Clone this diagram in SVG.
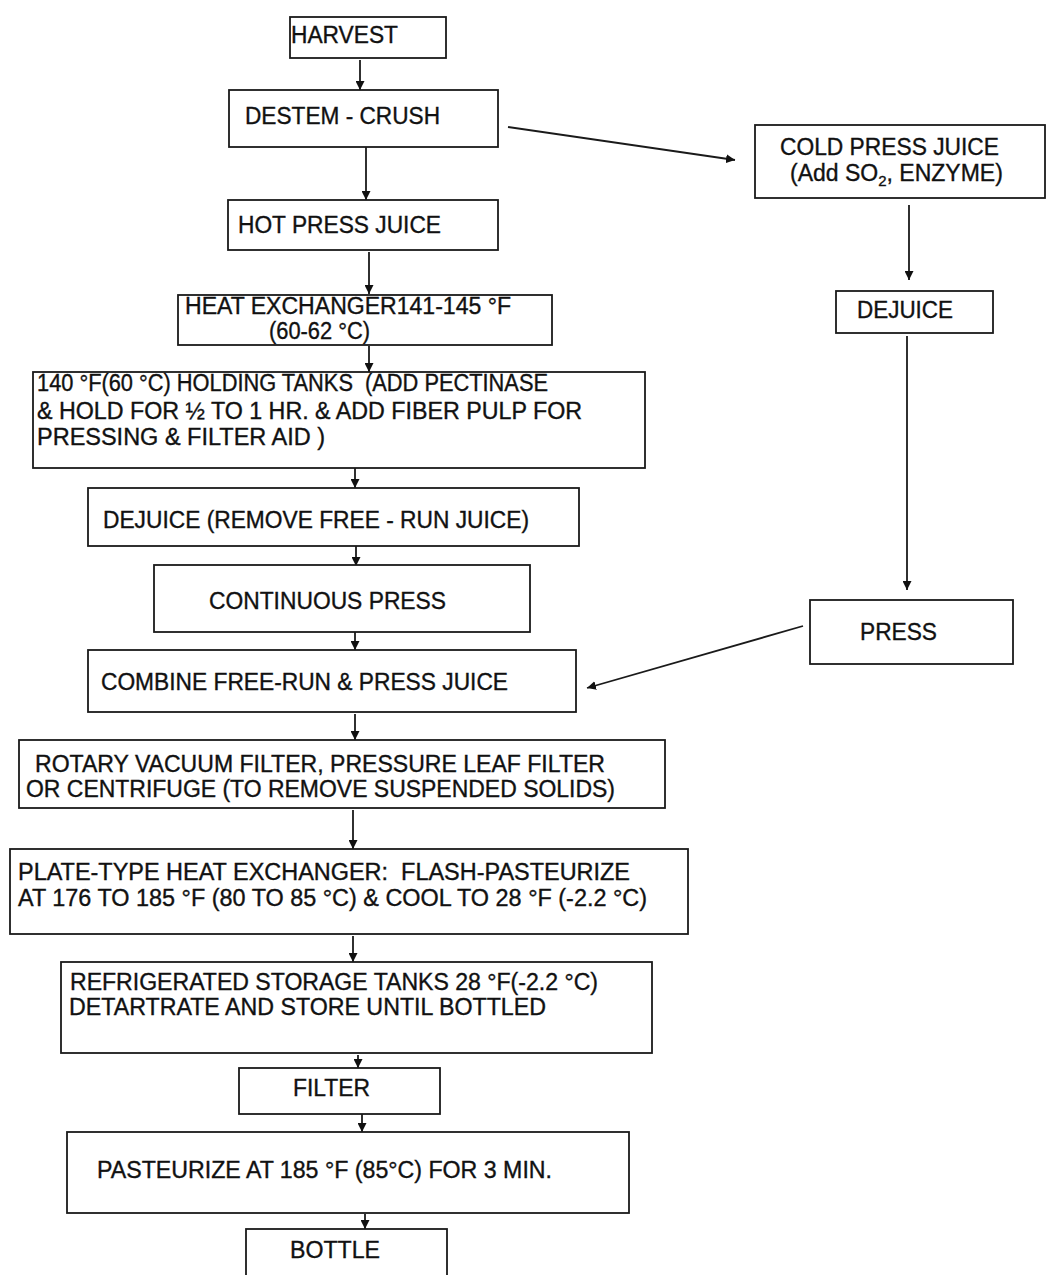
<svg xmlns="http://www.w3.org/2000/svg" width="1047" height="1275" viewBox="0 0 1047 1275">
<defs>
<marker id="ah" viewBox="0 0 10 10" refX="10" refY="5" markerWidth="9" markerHeight="9" markerUnits="userSpaceOnUse" orient="auto">
<path d="M0,0 L10,5 L0,10 z" fill="#111"/>
</marker>
<style>
rect{fill:#fff;stroke:#1a1a1a;stroke-width:1.8}
text{font-family:"Liberation Sans",Arial,sans-serif;font-size:23px;fill:#111;stroke:#111;stroke-width:0.35;white-space:pre}
.c line{stroke:#1a1a1a;stroke-width:1.8;marker-end:url(#ah)}
</style>
</defs>
<rect x="0" y="0" width="1047" height="1275" style="fill:#fff;stroke:none"/>
<g class="c" id="connectors">
<line x1="360" y1="60" x2="360" y2="90"/>
<line x1="366" y1="140" x2="366" y2="200"/>
<line x1="508" y1="127" x2="735" y2="160"/>
<line x1="909" y1="205" x2="909" y2="280"/>
<line x1="907" y1="336" x2="907" y2="590"/>
<line x1="803" y1="626" x2="587" y2="688"/>
<line x1="369" y1="252" x2="369" y2="294"/>
<line x1="369" y1="346" x2="369" y2="372"/>
<line x1="355" y1="462" x2="355" y2="488"/>
<line x1="356" y1="546" x2="356" y2="566"/>
<line x1="355" y1="632" x2="355" y2="650"/>
<line x1="355" y1="714" x2="355" y2="740"/>
<line x1="353" y1="810" x2="353" y2="849"/>
<line x1="353" y1="936" x2="353" y2="962"/>
<line x1="358" y1="1055" x2="358" y2="1068"/>
<line x1="362" y1="1114" x2="362" y2="1132"/>
<line x1="365" y1="1214" x2="365" y2="1229"/>
</g>
<g id="harvest"><rect x="290" y="17" width="156" height="41"/><text x="291" y="43" textLength="107" lengthAdjust="spacingAndGlyphs">HARVEST</text></g>
<g id="destem"><rect x="229" y="90" width="269" height="57"/><text x="245" y="124" textLength="195" lengthAdjust="spacingAndGlyphs">DESTEM - CRUSH</text></g>
<g id="coldpress"><rect x="755" y="125" width="290" height="73"/><text x="780" y="155" textLength="219" lengthAdjust="spacingAndGlyphs">COLD PRESS JUICE</text><text x="790" y="181">(Add SO<tspan font-size="15" dy="5">2</tspan><tspan dy="-5">, ENZYME)</tspan></text></g>
<g id="dejuice-right"><rect x="836" y="291" width="157" height="42"/><text x="857" y="318" textLength="96" lengthAdjust="spacingAndGlyphs">DEJUICE</text></g>
<g id="press"><rect x="810" y="600" width="203" height="64"/><text x="860" y="640" textLength="77" lengthAdjust="spacingAndGlyphs">PRESS</text></g>
<g id="hotpress"><rect x="228" y="200" width="270" height="50"/><text x="238" y="233" textLength="203" lengthAdjust="spacingAndGlyphs">HOT PRESS JUICE</text></g>
<g id="heatex"><rect x="178" y="295" width="374" height="50"/><text x="185" y="314" textLength="326" lengthAdjust="spacingAndGlyphs">HEAT EXCHANGER141-145 °F</text><text x="269" y="339" textLength="101" lengthAdjust="spacingAndGlyphs">(60-62 °C)</text></g>
<g id="holding"><rect x="33" y="372" width="612" height="96"/><text x="37" y="391" textLength="511" lengthAdjust="spacingAndGlyphs">140 °F(60 °C) HOLDING TANKS  (ADD PECTINASE</text><text x="37" y="419" textLength="545" lengthAdjust="spacingAndGlyphs">&amp; HOLD FOR ½ TO 1 HR. &amp; ADD FIBER PULP FOR</text><text x="37" y="445" textLength="288" lengthAdjust="spacingAndGlyphs">PRESSING &amp; FILTER AID )</text></g>
<g id="dejuice-left"><rect x="88" y="488" width="491" height="58"/><text x="103" y="528" textLength="426" lengthAdjust="spacingAndGlyphs">DEJUICE (REMOVE FREE - RUN JUICE)</text></g>
<g id="continuous"><rect x="154" y="565" width="376" height="67"/><text x="209" y="609" textLength="237" lengthAdjust="spacingAndGlyphs">CONTINUOUS PRESS</text></g>
<g id="combine"><rect x="88" y="650" width="488" height="62"/><text x="101" y="690" textLength="407" lengthAdjust="spacingAndGlyphs">COMBINE FREE-RUN &amp; PRESS JUICE</text></g>
<g id="rotary"><rect x="19" y="740" width="646" height="68"/><text x="35" y="772" textLength="570" lengthAdjust="spacingAndGlyphs">ROTARY VACUUM FILTER, PRESSURE LEAF FILTER</text><text x="26" y="797" textLength="589" lengthAdjust="spacingAndGlyphs">OR CENTRIFUGE (TO REMOVE SUSPENDED SOLIDS)</text></g>
<g id="plate"><rect x="10" y="849" width="678" height="85"/><text x="18" y="880" textLength="612" lengthAdjust="spacingAndGlyphs">PLATE-TYPE HEAT EXCHANGER:  FLASH-PASTEURIZE</text><text x="18" y="906" textLength="629" lengthAdjust="spacingAndGlyphs">AT 176 TO 185 °F (80 TO 85 °C) &amp; COOL TO 28 °F (-2.2 °C)</text></g>
<g id="refrigerated"><rect x="61" y="962" width="591" height="91"/><text x="70" y="990" textLength="528" lengthAdjust="spacingAndGlyphs">REFRIGERATED STORAGE TANKS 28 °F(-2.2 °C)</text><text x="69" y="1015" textLength="477" lengthAdjust="spacingAndGlyphs">DETARTRATE AND STORE UNTIL BOTTLED</text></g>
<g id="filter"><rect x="239" y="1068" width="201" height="46"/><text x="293" y="1096" textLength="77" lengthAdjust="spacingAndGlyphs">FILTER</text></g>
<g id="pasteurize"><rect x="67" y="1132" width="562" height="81"/><text x="97" y="1178" textLength="455" lengthAdjust="spacingAndGlyphs">PASTEURIZE AT 185 °F (85°C) FOR 3 MIN.</text></g>
<g id="bottle"><rect x="246" y="1229" width="201" height="60"/><text x="290" y="1258" textLength="90" lengthAdjust="spacingAndGlyphs">BOTTLE</text></g>
</svg>
